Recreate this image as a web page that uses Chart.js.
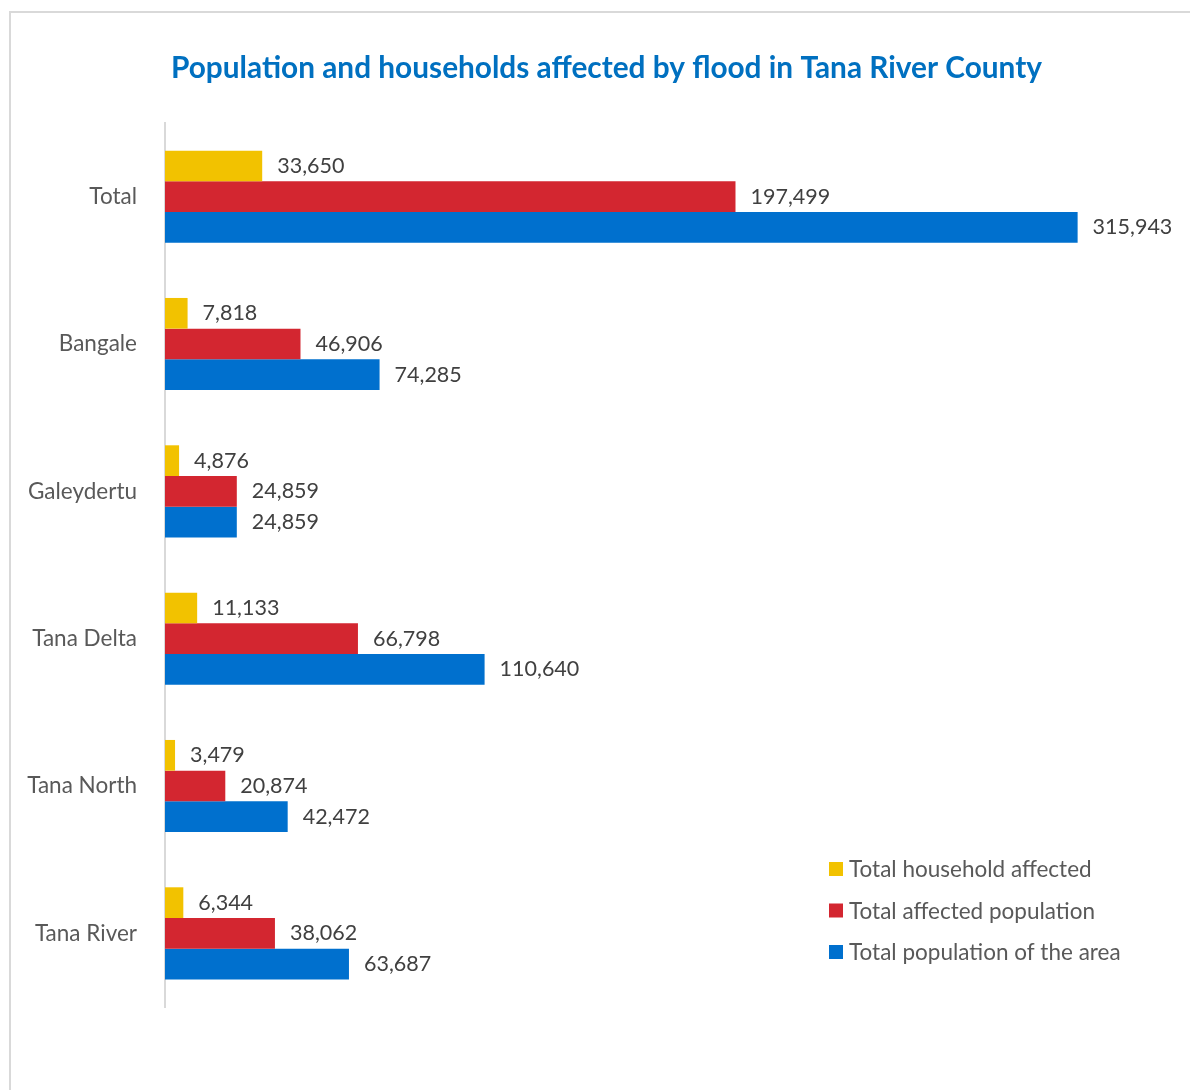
<!DOCTYPE html>
<html>
<head>
<meta charset="utf-8">
<script src="https://cdn.jsdelivr.net/npm/chart.js@4.4.1/dist/chart.umd.min.js"></script>
<style>
  html, body { margin: 0; padding: 0; background: #fff; }
  #wrap { position: relative; width: 1190px; height: 1090px; overflow: hidden; }
  #frame { position: absolute; left: 9px; top: 11px; width: 1300px; height: 1200px;
           border-left: 2px solid #d9d9d9; border-top: 2px solid #d9d9d9; }
  canvas { position: absolute; left: 0; top: 0; }
</style>
</head>
<body>
<div id="wrap">
  <div id="frame"></div>
  <canvas id="floodChart" width="1190" height="1090"></canvas>
</div>
<script>
const areas = ['Total', 'Bangale', 'Galeydertu', 'Tana Delta', 'Tana North', 'Tana River'];
const householdsAffected = [33650, 7818, 4876, 11133, 3479, 6344];
const populationAffected = [197499, 46906, 24859, 66798, 20874, 38062];
const populationTotal = [315943, 74285, 24859, 110640, 42472, 63687];
const seriesNames = ['Total household affected', 'Total affected population', 'Total population of the area'];
const chartTitle = 'Population and households affected by flood in Tana River County';

const FONT = 'Lato, "Open Sans", sans-serif';

// title centred over the whole frame (not just the chart box)
const frameTitle = {
  id: 'frameTitle',
  afterDraw(chart) {
    const ctx = chart.ctx;
    ctx.save();
    ctx.font = 'bold 29.8px ' + FONT;
    ctx.fillStyle = '#0070c0';
    ctx.textAlign = 'center';
    ctx.textBaseline = 'middle';
    ctx.fillText(chartTitle, 606.5, 68);
    ctx.restore();
  }
};

// value labels at the end of each bar
const barLabels = {
  id: 'barLabels',
  afterDatasetsDraw(chart) {
    const ctx = chart.ctx;
    ctx.save();
    ctx.font = '21.5px ' + FONT;
    ctx.fillStyle = '#404040';
    ctx.textBaseline = 'middle';
    ctx.textAlign = 'left';
    chart.data.datasets.forEach((ds, i) => {
      chart.getDatasetMeta(i).data.forEach((bar, j) => {
        ctx.fillText(ds.data[j].toLocaleString('en-US'), bar.x + 15, bar.y);
      });
    });
    ctx.restore();
  }
};

// legend sitting inside the plot, lower right
const sideLegend = {
  id: 'sideLegend',
  afterDraw(chart) {
    const ctx = chart.ctx;
    ctx.save();
    ctx.font = '22.5px ' + FONT;
    ctx.textBaseline = 'middle';
    chart.data.datasets.forEach((ds, i) => {
      const y = 869 + i * 41.5;
      ctx.fillStyle = ds.backgroundColor;
      ctx.fillRect(829, y - 7, 14, 14);
      ctx.fillStyle = '#595959';
      ctx.fillText(ds.label, 849, y + 1);
    });
    ctx.restore();
  }
};

new Chart(document.getElementById('floodChart'), {
  type: 'bar',
  data: {
    labels: areas,
    datasets: [
      { label: seriesNames[0], data: householdsAffected, backgroundColor: '#f2c200' },
      { label: seriesNames[1], data: populationAffected, backgroundColor: '#d32630' },
      { label: seriesNames[2], data: populationTotal, backgroundColor: '#0070ce' }
    ]
  },
  options: {
    indexAxis: 'y',
    responsive: false,
    animation: false,
    categoryPercentage: 0.625,
    barPercentage: 1,
    layout: { padding: { top: 123, left: 0, right: 14, bottom: 83 } },
    scales: {
      x: { display: false, min: 0, max: 350000 },
      y: {
        grid: { display: false },
        border: { display: true, color: '#d9d9d9', width: 2 },
        ticks: { color: '#595959', font: { family: FONT, size: 22.5 }, padding: 20 },
        afterFit(scale) { scale.width = 165; }
      }
    },
    plugins: {
      legend: { display: false },
      tooltip: { enabled: false },
      title: { display: false }
    }
  },
  plugins: [frameTitle, barLabels, sideLegend]
});
</script>
</body>
</html>
